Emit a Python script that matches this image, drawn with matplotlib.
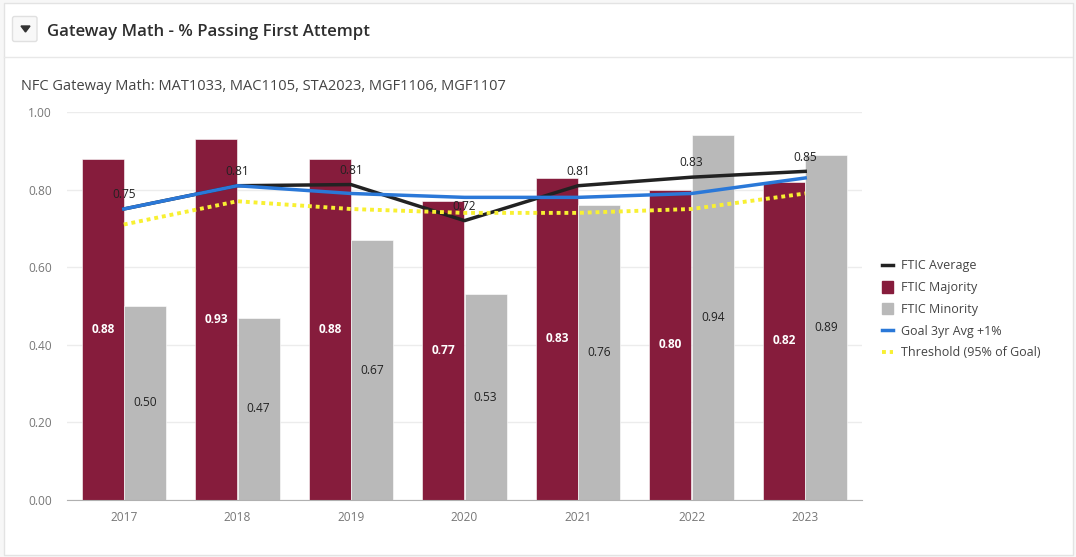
import numpy as np
import matplotlib
matplotlib.use("Agg")
import matplotlib.pyplot as plt
from matplotlib.patches import Rectangle, FancyBboxPatch
from matplotlib.lines import Line2D
from matplotlib.patches import Patch

years = ['2017', '2018', '2019', '2020', '2021', '2022', '2023']
majority = [0.88, 0.93, 0.88, 0.77, 0.83, 0.80, 0.82]
minority = [0.50, 0.47, 0.67, 0.53, 0.76, 0.94, 0.89]
average = [0.75, 0.81, 0.813, 0.72, 0.81, 0.832, 0.847]
goal = [0.75, 0.81, 0.79, 0.78, 0.78, 0.79, 0.83]
threshold = [0.71, 0.77, 0.75, 0.74, 0.74, 0.75, 0.79]
y_ticks = [0.0, 0.2, 0.4, 0.6, 0.8, 1.0]

W, H = 1076, 557
plt.rcParams['font.family'] = ['Open Sans', 'DejaVu Sans']

fig = plt.figure(figsize=(W / 100, H / 100), dpi=100, facecolor='#f7f7f7')

# card + header
bg = fig.add_axes([0, 0, 1, 1])
bg.set_xlim(0, W)
bg.set_ylim(H, 0)
bg.axis('off')
bg.add_patch(Rectangle((3.5, 2.5), 1069, 552, fc='white', ec='#e3e3e3', lw=1))
bg.plot([4, 1072], [56.5, 56.5], color='#e8e8e8', lw=1)
bg.add_patch(FancyBboxPatch((12.5, 16.5), 24.5, 25, boxstyle='round,pad=0,rounding_size=2',
                            fc='#f8f8f8', ec='#e0e0e0', lw=1))
bg.fill([21, 30, 25.5], [26, 26, 32], color='#333333')
bg.text(47, 31.5, 'Gateway Math - % Passing First Attempt', fontsize=12.05, color='#2e2e2e',
        va='center', ha='left', fontweight='semibold')
bg.text(21, 86.5, 'NFC Gateway Math: MAT1033, MAC1105, STA2023, MGF1106, MGF1107', fontsize=10.53,
        color='#444444', va='center', ha='left')

# plot area
left, right, top, bottom = 67, 862, 112, 500
ax = fig.add_axes([left / W, 1 - bottom / H, (right - left) / W, (bottom - top) / H])
ax.patch.set_alpha(0)
x = np.arange(len(years))
bw = 0.37

ax.bar(x - bw / 2 - 0.002, majority, bw, color='#861c3c', zorder=2, edgecolor='white', linewidth=0.4)
ax.bar(x + bw / 2 + 0.002, minority, bw, color='#b9b9b9', zorder=2, edgecolor='white', linewidth=0.4)
ax.plot(x, average, color='#222222', lw=2.5, zorder=3)
ax.plot(x, goal, color='#2a78d8', lw=2.5, zorder=4)
ax.plot(x, threshold, color='#f8f032', lw=2.8, ls=(0, (1, 1)), zorder=5)

for i in range(len(years)):
    ax.text(x[i] - bw / 2, majority[i] / 2, f'{majority[i]:.2f}', color='white', fontsize=8.6,
            fontweight='bold', ha='center', va='center', zorder=6)
    ax.text(x[i] + bw / 2, minority[i] / 2, f'{minority[i]:.2f}', color='#222222', fontsize=8.6,
            ha='center', va='center', zorder=6)
    ax.text(x[i], average[i] + 0.02, f'{average[i]:.2f}', color='#222222', fontsize=8.6,
            ha='center', va='bottom', zorder=6)

ax.set_xlim(-0.5, 6.5)
ax.set_ylim(0, 1)
ax.set_xticks(x)
ax.set_xticklabels(years)
ax.set_yticks(y_ticks)
ax.set_yticklabels([f'{v:.2f}' for v in y_ticks])
ax.tick_params(axis='both', length=0, labelsize=8.6, labelcolor='#777777')
ax.tick_params(axis='x', pad=8)
ax.tick_params(axis='y', pad=11)
ax.grid(axis='y', color='#ececec', lw=1, zorder=0)
ax.set_axisbelow(True)
for s in ['top', 'left', 'right']:
    ax.spines[s].set_visible(False)
ax.spines['bottom'].set_color('#b0b0b0')

handles = [
    Line2D([], [], color='#222222', lw=2.5),
    Patch(color='#861c3c'),
    Patch(color='#b9b9b9'),
    Line2D([], [], color='#2a78d8', lw=2.5),
    Line2D([], [], color='#f8f032', lw=2.8, ls=(0, (1, 1))),
]
labels = ['FTIC Average', 'FTIC Majority', 'FTIC Minority', 'Goal 3yr Avg +1%', 'Threshold (95% of Goal)']
fig.legend(handles, labels, loc='center left', bbox_to_anchor=(882 / W, 1 - 309.5 / H), frameon=False,
           fontsize=9, labelcolor='#444444', handlelength=0.85, handleheight=1.0, handletextpad=0.66,
           labelspacing=0.7, borderpad=0, borderaxespad=0)

fig.savefig('out.png', dpi=100, facecolor=fig.get_facecolor())
